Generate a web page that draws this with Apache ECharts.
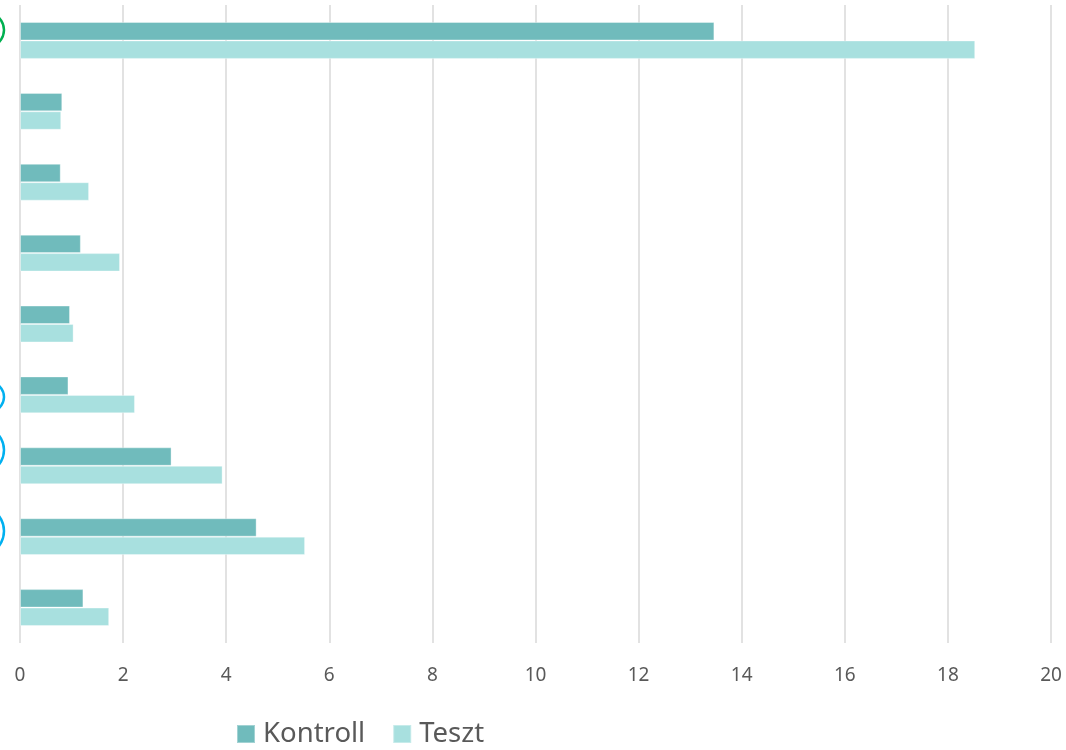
<!DOCTYPE html>
<html>
<head>
<meta charset="utf-8">
<script src="https://cdn.jsdelivr.net/npm/echarts@6/dist/echarts.min.js"></script>
<style>
  html, body { margin: 0; padding: 0; background: #ffffff; }
  #chart { width: 1066px; height: 750px; }
</style>
</head>
<body>
<div id="chart"></div>
<script>
// Category rows, top to bottom (labels sit outside the plotted area)
const categories = ['1', '2', '3', '4', '5', '6', '7', '8', '9'];
// Series values per row
const kontroll = [13.47, 0.82, 0.79, 1.18, 0.97, 0.94, 2.94, 4.59, 1.23];
const teszt    = [18.53, 0.80, 1.34, 1.94, 1.04, 2.23, 3.93, 5.53, 1.73];
// Value axis ticks
const xTicks = [0, 2, 4, 6, 8, 10, 12, 14, 16, 18, 20];
const seriesNames = ['Kontroll', 'Teszt'];

const chart = echarts.init(document.getElementById('chart'), null, { renderer: 'canvas' });

// Highlight ovals around selected row labels on the left edge
function oval(cy, ry, color) {
  return {
    type: 'ellipse',
    shape: { cx: -40, cy: cy, rx: 44, ry: ry },
    style: { fill: 'none', stroke: color, lineWidth: 2.5 },
    silent: true,
    z: 100
  };
}

const option = {
  backgroundColor: '#ffffff',
  animation: false,
  textStyle: { fontFamily: 'Noto Sans' },
  grid: { left: 20, right: 15, top: 5, bottom: 107, containLabel: false },
  legend: {
    data: seriesNames,
    left: 236,
    top: 720,
    padding: 0,
    itemWidth: 18,
    itemHeight: 18,
    itemGap: 27,
    icon: 'rect',
    textStyle: { fontSize: 27.5, color: '#595959', fontFamily: 'Noto Sans', padding: [0, 0, 0, 3] }
  },
  xAxis: {
    type: 'value',
    min: xTicks[0],
    max: xTicks[xTicks.length - 1],
    interval: 2,
    axisLine: { show: false },
    axisTick: { show: false },
    axisLabel: { fontSize: 19, color: '#595959', margin: 23, fontFamily: 'Noto Sans' },
    splitLine: { show: true, lineStyle: { color: '#d9d9d9', width: 1.5 } }
  },
  yAxis: {
    type: 'category',
    data: categories,
    inverse: true,
    axisLine: { show: false },
    axisTick: { show: false },
    axisLabel: { show: false },
    splitLine: { show: false }
  },
  series: [
    {
      name: seriesNames[0],
      type: 'bar',
      data: kontroll,
      barGap: '0%',
      barCategoryGap: '48%',
      itemStyle: { color: '#70bbbc', borderColor: 'rgba(255,255,255,0.35)', borderWidth: 1 }
    },
    {
      name: seriesNames[1],
      type: 'bar',
      data: teszt,
      barGap: '0%',
      barCategoryGap: '48%',
      itemStyle: { color: '#a8e0df', borderColor: 'rgba(255,255,255,0.35)', borderWidth: 1 }
    }
  ],
  graphic: [
    oval(30, 26, '#00b050'),
    oval(397, 24, '#00b0f0'),
    oval(450, 31, '#00b0f0'),
    oval(531, 32, '#00b0f0')
  ]
};

chart.setOption(option);
</script>
</body>
</html>
